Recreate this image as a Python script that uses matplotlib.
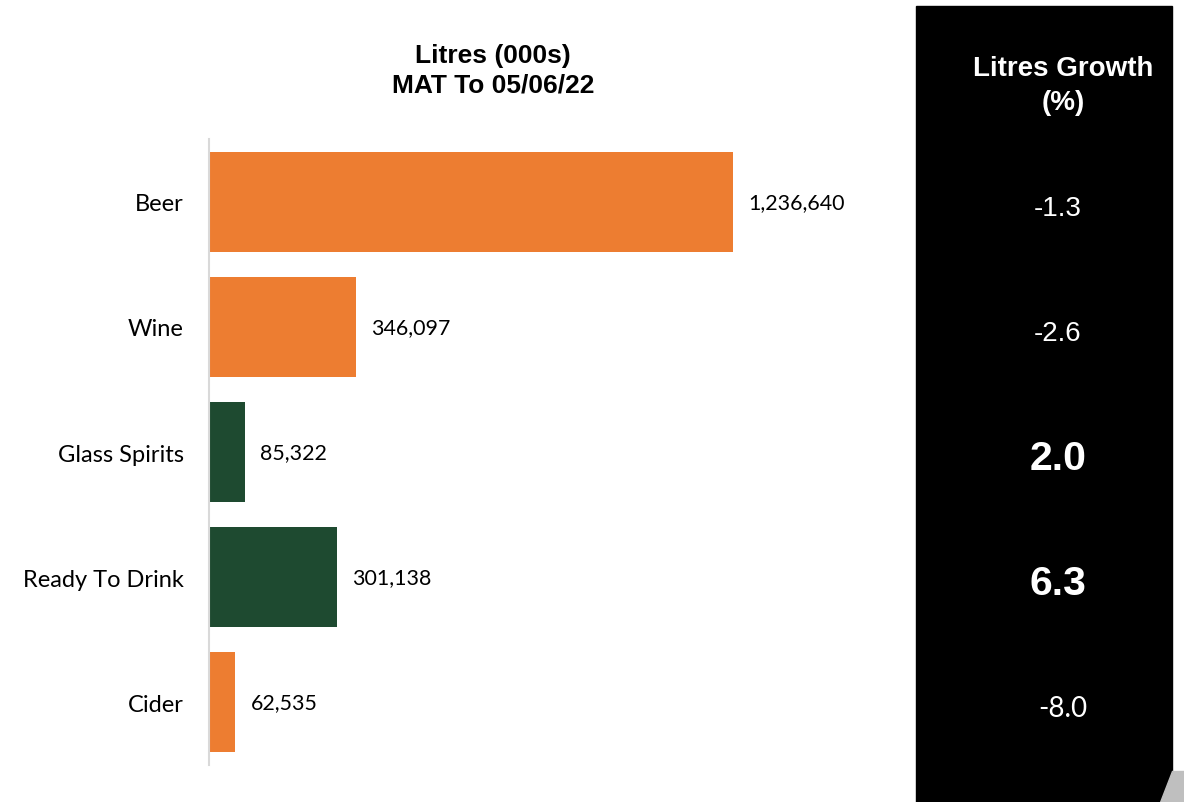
import matplotlib.pyplot as plt
from matplotlib.patches import Rectangle, Polygon

categories = ['Beer', 'Wine', 'Glass Spirits', 'Ready To Drink', 'Cider']
litres = [1236640, 346097, 85322, 301138, 62535]
growth = ['-1.3', '-2.6', '2.0', '6.3', '-8.0']
highlight = [False, False, True, True, False]

ORANGE = '#ED7D31'
GREEN = '#1E4A30'

W, H = 1184, 803
fig = plt.figure(figsize=(W / 100, H / 100), dpi=100)

# main bar axes: x 209..900 px, y 140..766 px
ax = fig.add_axes([209 / W, 1 - 766 / H, (900 - 209) / W, (766 - 140) / H])
colors = [GREEN if h else ORANGE for h in highlight]
ypos = list(range(len(categories)))
ax.barh(ypos, litres, height=0.8, color=colors)
ax.set_ylim(len(categories) - 0.5, -0.5)
ax.set_xlim(0, 1236640 * (900 - 209) / (733 - 209))
for s in ['top', 'right', 'bottom']:
    ax.spines[s].set_visible(False)
ax.spines['left'].set_color('#d9d9d9')
ax.spines['left'].set_linewidth(1.5)
ax.set_xticks([])
ax.set_yticks(ypos)
ax.set_yticklabels(categories, fontfamily='Lato', fontsize=17)
ax.tick_params(axis='y', length=0, pad=18)

for y, v in zip(ypos, litres):
    ax.text(v + 1236640 * 15 / 524, y, f'{v:,}', va='center', ha='left',
            fontfamily='Lato', fontsize=15.4)

fig.text(493 / W, 1 - 71 / H, 'Litres (000s)\nMAT To 05/06/22', ha='center', va='center',
         fontfamily='Liberation Sans', fontweight='bold', fontsize=19, linespacing=1.3)

# right black panel
fig.patches.append(Rectangle((916 / W, 0), (1172 - 916) / W, 1 - 7 / H,
                             transform=fig.transFigure, color='black', zorder=0))
fig.patches.append(Polygon([(1160 / W, 0), (1184 / W, 0), (1184 / W, 1 - 772 / H), (1172 / W, 1 - 772 / H)],
                           closed=True, transform=fig.transFigure, color='#bfbfbf', zorder=0))
fig.text(1063 / W, 1 - 86 / H, 'Litres Growth\n(%)', ha='center', va='center', color='white',
         fontfamily='Liberation Sans', fontweight='bold', fontsize=20, linespacing=1.35)

for y, g, h in zip(ypos, growth, highlight):
    yc = ax.transData.transform((0, y))[1] - 6
    if h:
        fig.text(1058 / W, yc / fig.bbox.height, g, ha='center', va='center', color='white',
                 fontfamily='Liberation Sans', fontweight='bold', fontsize=29.5)
    elif g == '-8.0':
        fig.text(1063 / W, yc / fig.bbox.height, g, ha='center', va='center', color='white',
                 fontfamily='Lato', fontsize=20)
    else:
        fig.text(1058 / W, yc / fig.bbox.height, g, ha='center', va='center', color='white',
                 fontfamily='Liberation Sans', fontsize=20)

fig.savefig('out.png', dpi=100)
